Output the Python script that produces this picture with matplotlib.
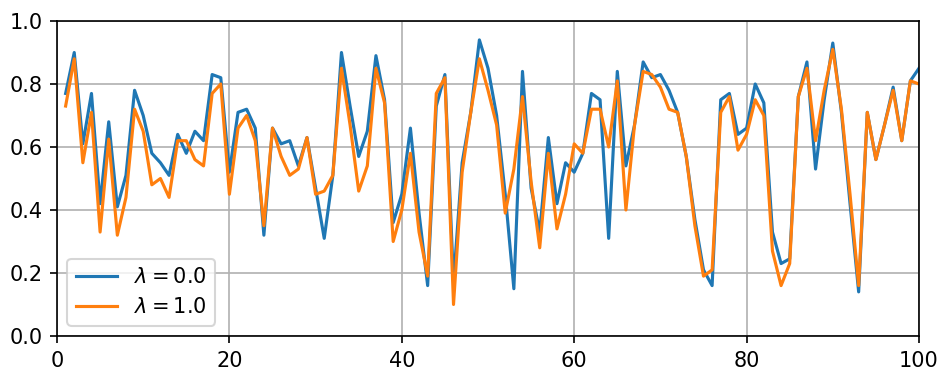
"""
Two noisy series for lambda = 0.0 and lambda = 1.0 over 100 steps
"""

import matplotlib
matplotlib.use('Agg')
import matplotlib.pyplot as plt
import numpy as np


steps = np.arange(1, 101)

# lambda = 0.0
vals_l0 = [
    0.77, 0.90, 0.61, 0.77, 0.42, 0.68, 0.41, 0.51, 0.78, 0.70,
    0.58, 0.55, 0.51, 0.64, 0.58, 0.65, 0.62, 0.83, 0.82, 0.52,
    0.71, 0.72, 0.66, 0.32, 0.66, 0.61, 0.62, 0.54, 0.63, 0.47,
    0.31, 0.51, 0.90, 0.73, 0.57, 0.65, 0.89, 0.75, 0.36, 0.45,
    0.66, 0.39, 0.16, 0.73, 0.83, 0.17, 0.55, 0.71, 0.94, 0.85,
    0.70, 0.45, 0.15, 0.84, 0.47, 0.33, 0.63, 0.42, 0.55, 0.52,
    0.58, 0.77, 0.75, 0.31, 0.84, 0.54, 0.67, 0.87, 0.82, 0.83,
    0.78, 0.71, 0.57, 0.37, 0.21, 0.16, 0.75, 0.77, 0.64, 0.66,
    0.80, 0.74, 0.33, 0.23, 0.245, 0.76, 0.87, 0.53, 0.75, 0.93,
    0.71, 0.42, 0.14, 0.71, 0.56, 0.67, 0.79, 0.62, 0.81, 0.85,
]

# lambda = 1.0
vals_l1 = [
    0.73, 0.88, 0.55, 0.71, 0.33, 0.625, 0.32, 0.44, 0.72, 0.65,
    0.48, 0.50, 0.44, 0.62, 0.62, 0.56, 0.54, 0.77, 0.80, 0.45,
    0.66, 0.70, 0.62, 0.35, 0.66, 0.57, 0.51, 0.53, 0.63, 0.45,
    0.46, 0.51, 0.85, 0.67, 0.46, 0.54, 0.85, 0.74, 0.30, 0.40,
    0.58, 0.33, 0.19, 0.77, 0.82, 0.10, 0.52, 0.71, 0.88, 0.78,
    0.67, 0.39, 0.53, 0.76, 0.49, 0.28, 0.58, 0.34, 0.45, 0.61,
    0.58, 0.72, 0.72, 0.60, 0.81, 0.40, 0.67, 0.84, 0.83, 0.79,
    0.72, 0.71, 0.57, 0.35, 0.19, 0.21, 0.71, 0.76, 0.59, 0.64,
    0.75, 0.70, 0.27, 0.16, 0.23, 0.76, 0.85, 0.62, 0.78, 0.91,
    0.72, 0.45, 0.16, 0.71, 0.56, 0.67, 0.78, 0.62, 0.81, 0.80,
]

lambdas = [0.0, 1.0]


def main():

    fig = plt.figure(figsize=(952/150, 382/150), dpi=150)
    ax = fig.add_axes([57/952, 46/382, 862/952, 315/382])

    for lam, vals in zip(lambdas, [vals_l0, vals_l1]):
        ax.plot(steps, vals, label=rf'$\lambda = {lam:.1f}$')

    ax.set_xlim([0, 100])
    ax.set_ylim([0, 1.0])
    ax.grid(True)
    ax.legend(loc='lower left')

    fig.savefig('out.png', dpi=150)
    plt.close()


if __name__ == '__main__':
    main()
